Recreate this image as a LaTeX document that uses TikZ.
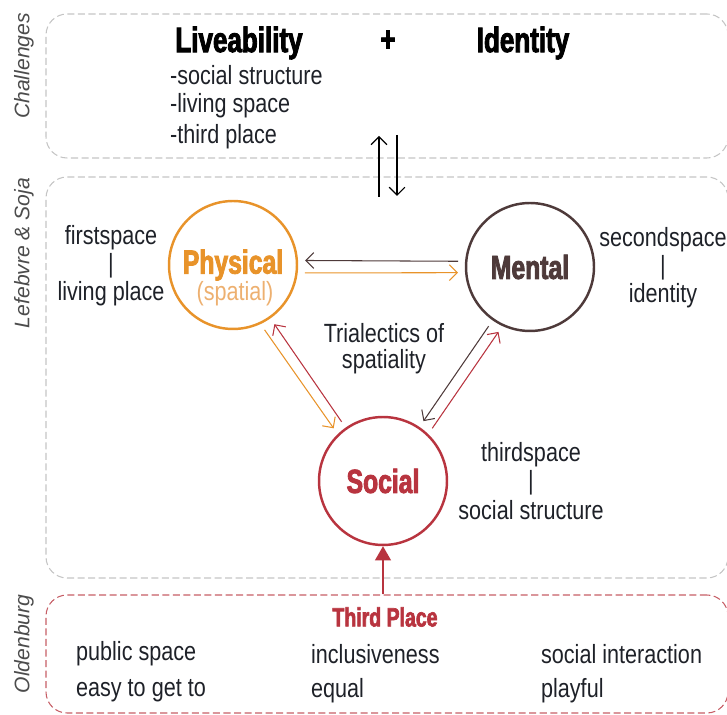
\documentclass[tikz,border=0pt]{standalone}
\usepackage{fontspec}
\setmainfont{Liberation Sans}[FakeStretch=0.82]
\newfontfamily\headfont{Liberation Sans}[FakeStretch=0.74,BoldFeatures={FakeBold=2.5}]
\newfontfamily\sidefont{Liberation Sans}
\usepackage{xcolor}
\usepackage{tikz}
\usetikzlibrary{arrows.meta,fit}

\definecolor{physorange}{HTML}{E8932A}
\definecolor{spatorange}{HTML}{EDB070}
\definecolor{mentbrown}{HTML}{4E3A3A}
\definecolor{socred}{HTML}{B8343F}
\definecolor{zonegray}{HTML}{C4C4C4}
\definecolor{inktext}{HTML}{1E2128}

\begin{document}
\begin{tikzpicture}[x=0.02cm,y=-0.02cm,>={Straight Barb[length=4.5pt,width=9pt]},
	zone/.style={draw=#1,dash pattern=on 4pt off 2pt,rounded corners=12pt,inner sep=0pt,line width=0.6pt},
	side/.style={font=\sidefont\itshape\fontsize{12}{14}\selectfont,text=black!70,rotate=90},
	head/.style={font=\headfont\bfseries\fontsize{20}{24}\selectfont,text=black},
	txt/.style={font=\fontsize{15}{18}\selectfont,text=inktext,inner sep=1pt},
	place/.style={circle,draw=#1,line width=1.4pt,minimum size=2.56cm,inner sep=0pt,text=#1,font=\headfont\bfseries\fontsize{19}{22}\selectfont},
	pair/.style={->,line width=0.6pt,shorten >=4pt,shorten <=4pt}]
	\useasboundingbox (0,0) rectangle (727,715);

	% the three zones
	\node [zone=zonegray,fit={(46,14) (728,158)}] (chal) {};
	\node [zone=zonegray,fit={(46,177) (728,578)}] (lefe) {};
	\node [zone=socred!80,fit={(46,595) (728,713)}] (olde) {};
	\node [side] at (24,66) {Challenges};
	\node [side] at (24,253) {Lefebvre \& Soja};
	\node [side] at (24,644) {Oldenburg};

	% challenges
	\node [head] at (239,43) (live) {Liveability};
	\node [head] at (388,41) (plus) {+};
	\node [head] at (523,43) (iden) {Identity};
	\node [txt,anchor=west] at (168,75) (c1) {-social structure};
	\node [txt,anchor=west] at (168,106) (c2) {-living space};
	\node [txt,anchor=west] at (168,137) (c3) {-third place};

	\coordinate (up0) at (379,197);
	\coordinate (up1) at (379,136);
	\coordinate (dn0) at (397,135);
	\coordinate (dn1) at (397,196);
	\draw [->,line width=0.7pt] (up0) -- (up1);
	\draw [->,line width=0.7pt] (dn0) -- (dn1);

	% trialectics
	\node [place=physorange] at (233,265) (phys) {Physical};
	\node [txt,text=spatorange] at (235,294) (spat) {(spatial)};
	\node [place=mentbrown] at (530,267) (ment) {Mental};
	\node [place=socred] at (383,481) (soc) {Social};

	\node [txt] at (111,238) (fs) {firstspace};
	\node [txt] at (111,266) {|};
	\node [txt] at (111,294) {living place};
	\node [txt] at (663,240) (ss) {secondspace};
	\node [txt] at (663,268) {|};
	\node [txt] at (663,296) {identity};
	\node [txt] at (531,455) (ts) {thirdspace};
	\node [txt] at (531,483) {|};
	\node [txt] at (531,510) {social structure};
	\node [txt] at (384,333) (tri) {Trialectics of};
	\node [txt] at (384,362) {spatiality};

	\path[pair]
	(ment.175) edge[mentbrown] (phys.4)
	(phys.-7) edge[physorange] (ment.185)
	(phys.-65) edge[physorange] (soc.134)
	(soc.125) edge[socred] (phys.-55)
	(ment.235) edge[mentbrown] (soc.56)
	(soc.46) edge[socred] (ment.245);

	% third place
	\draw [-{Triangle[length=8pt,width=9pt]},socred,line width=0.7pt] (olde.north -| soc.south) -- (soc.south);
	\node [font=\headfont\bfseries\fontsize{15}{18}\selectfont,text=socred] at (385,617) (tp) {Third Place};
	\node [txt,anchor=west] at (74,654) {public space};
	\node [txt,anchor=west] at (74,691) {easy to get to};
	\node [txt,anchor=west] at (309,654) {inclusiveness};
	\node [txt,anchor=west] at (309,691) {equal};
	\node [txt,anchor=west] at (539,654) {social interaction};
	\node [txt,anchor=west] at (539,691) {playful};
\end{tikzpicture}
\end{document}
